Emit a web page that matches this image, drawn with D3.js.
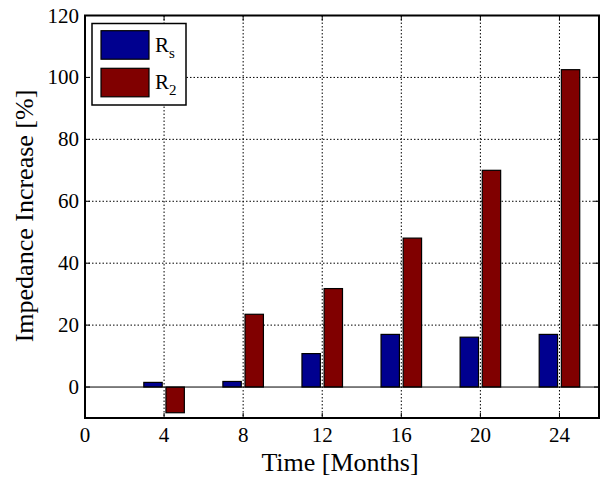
<!DOCTYPE html>
<html><head><meta charset="utf-8">
<script src="https://cdn.jsdelivr.net/npm/d3@7/dist/d3.min.js"></script>
<style>body{margin:0;background:#fff}svg{display:block}text{font-family:"Liberation Serif","Times New Roman",serif;fill:#000}</style>
</head><body><svg id="c" width="609" height="479"></svg>
<script>
const months = [0, 4, 8, 12, 16, 20, 24];
const rs = [0, 1.5, 1.8, 10.8, 17.0, 16.1, 17.0];
const r2 = [0, -8.3, 23.5, 31.8, 48.1, 70.0, 102.5];
const xTicks = [0, 4, 8, 12, 16, 20, 24];
const yTicks = [0, 20, 40, 60, 80, 100, 120];
const seriesNames = ["s", "2"];
const colors = ["#00008F", "#800000"];

const svg = d3.select("#c");
const L = 85, R = 599, T = 15.5, B = 418;
const x = d3.scaleLinear().domain([0, 26]).range([L, R]);
const y = d3.scaleLinear().domain([-10, 120]).range([B, T]);

svg.append("defs").append("clipPath").attr("id", "clip")
  .append("rect").attr("x", L).attr("y", T).attr("width", R - L).attr("height", B - T);

// grid
const g = svg.append("g");
g.selectAll(".vg").data(xTicks.filter(d => d > 0)).join("line")
  .attr("x1", d => x(d)).attr("x2", d => x(d)).attr("y1", T).attr("y2", B)
  .attr("stroke", "#000").attr("stroke-width", 1).attr("stroke-dasharray", "1.5,2");
g.selectAll(".hg").data(yTicks.filter(d => d > 0 && d < 120)).join("line")
  .attr("x1", L).attr("x2", R).attr("y1", d => y(d)).attr("y2", d => y(d))
  .attr("stroke", "#000").attr("stroke-width", 1).attr("stroke-dasharray", "1.5,2");

// bars
const off = 0.56, bw = 0.93;
const series = [rs, r2];
const bars = svg.append("g").attr("clip-path", "url(#clip)");
series.forEach((vals, si) => {
  const o = si === 0 ? -off : off;
  bars.selectAll(".b" + si).data(months.map((m, i) => ({m, v: vals[i]}))).join("rect")
    .attr("x", d => x(d.m + o - bw / 2))
    .attr("width", d => x(d.m + o + bw / 2) - x(d.m + o - bw / 2))
    .attr("y", d => Math.min(y(d.v), y(0)))
    .attr("height", d => Math.abs(y(d.v) - y(0)))
    .attr("fill", colors[si]).attr("stroke", "#000").attr("stroke-width", 1.2);
});
// baseline
svg.append("line").attr("x1", L).attr("x2", R).attr("y1", y(0)).attr("y2", y(0))
  .attr("stroke", "#000").attr("stroke-width", 1);

// frame
svg.append("rect").attr("x", L).attr("y", T).attr("width", R - L).attr("height", B - T)
  .attr("fill", "none").attr("stroke", "#000").attr("stroke-width", 2);

// ticks
const tl = 5;
const tg = svg.append("g").attr("stroke", "#000").attr("stroke-width", 1);
xTicks.forEach(t => {
  tg.append("line").attr("x1", x(t)).attr("x2", x(t)).attr("y1", B).attr("y2", B - tl);
  tg.append("line").attr("x1", x(t)).attr("x2", x(t)).attr("y1", T).attr("y2", T + tl);
});
yTicks.forEach(t => {
  tg.append("line").attr("x1", L).attr("x2", L + tl).attr("y1", y(t)).attr("y2", y(t));
  tg.append("line").attr("x1", R).attr("x2", R - tl).attr("y1", y(t)).attr("y2", y(t));
});

// tick labels
svg.selectAll(".xl").data(xTicks).join("text")
  .attr("x", d => x(d)).attr("y", 441.5).attr("text-anchor", "middle")
  .attr("font-size", 21).text(d => d);
svg.selectAll(".yl").data(yTicks).join("text")
  .attr("x", 79).attr("y", d => y(d) + 7).attr("text-anchor", "end")
  .attr("font-size", 21).text(d => d);

// axis labels
svg.append("text").attr("x", 340).attr("y", 471).attr("text-anchor", "middle")
  .attr("font-size", 26).text("Time [Months]");
svg.append("text").attr("transform", "translate(33,216) rotate(-90)")
  .attr("text-anchor", "middle").attr("font-size", 26).text("Impedance Increase [%]");

// legend
const lg = svg.append("g");
lg.append("rect").attr("x", 92).attr("y", 23.5).attr("width", 94).attr("height", 81.5)
  .attr("fill", "#fff").attr("stroke", "#000").attr("stroke-width", 1.5);
const ly = [30.7, 68.3];
seriesNames.forEach((n, i) => {
  lg.append("rect").attr("x", 101).attr("y", ly[i]).attr("width", 48).attr("height", 28.5)
    .attr("fill", colors[i]).attr("stroke", "#000").attr("stroke-width", 1.2);
  const t = lg.append("text").attr("x", 155).attr("y", ly[i] + 21).attr("font-size", 21);
  t.append("tspan").text("R");
  t.append("tspan").attr("dy", 6).attr("font-size", 15).text(n);
});
</script></body></html>
